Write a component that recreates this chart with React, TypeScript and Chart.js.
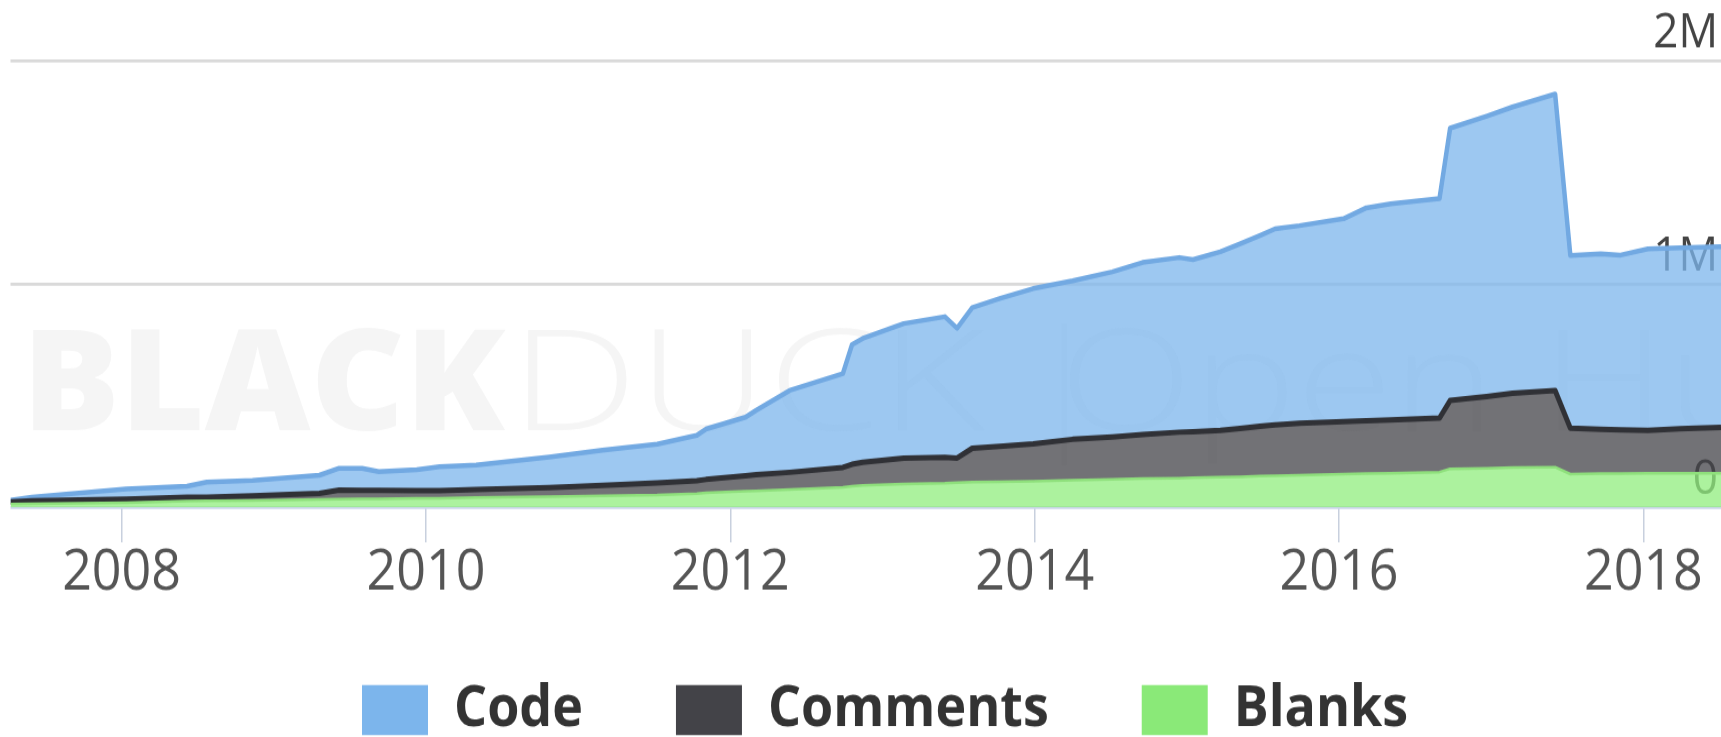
import React, { useEffect, useRef } from "react";
import { Chart, registerables } from "chart.js";

Chart.register(...registerables);

// ---- data (decimal years, thousands of lines) ----
const YEARS = [
  2007.27, 2007.41, 2008.03, 2008.43, 2008.56, 2008.86, 2009.3, 2009.43, 2009.58, 2009.69,
  2009.94, 2010.09, 2010.33, 2010.81, 2011.16, 2011.52, 2011.78, 2011.84, 2012.1, 2012.17,
  2012.39, 2012.74, 2012.8, 2012.87, 2013.14, 2013.41, 2013.49, 2013.59, 2013.77, 2013.99,
  2014.25, 2014.51, 2014.71, 2014.95, 2015.04, 2015.22, 2015.35, 2015.48, 2015.58, 2015.74,
  2016.03, 2016.18, 2016.34, 2016.66, 2016.73, 2016.97, 2017.14, 2017.42, 2017.52, 2017.72,
  2017.85, 2018.03, 2018.24, 2018.51,
];
const CODE_K = [
  7, 17, 45, 50, 67, 69, 81, 98, 99, 84,
  94, 107, 110, 136, 157, 174, 204, 226, 262, 289,
  367, 421, 537, 555, 604, 631, 582, 631, 662, 696,
  711, 740, 772, 783, 772, 801, 828, 855, 879, 886,
  910, 955, 969, 984, 1221, 1257, 1284, 1329, 774, 787,
  783, 814, 812, 810,
];
const COMMENTS_K = [
  10, 13, 16, 17, 17, 21, 28, 40, 38, 38,
  35, 34, 36, 41, 47, 54, 57, 60, 70, 72,
  77, 89, 98, 103, 116, 116, 110, 152, 159, 168,
  183, 190, 197, 206, 206, 210, 217, 224, 228, 233,
  235, 237, 239, 242, 306, 322, 333, 344, 206, 199,
  197, 192, 199, 206,
];
const BLANKS_K = [
  14, 15, 20, 27, 28, 30, 34, 36, 37, 37,
  39, 40, 43, 47, 51, 54, 61, 64, 71, 73,
  79, 89, 94, 98, 103, 107, 110, 112, 114, 116,
  121, 125, 128, 130, 132, 134, 136, 139, 141, 143,
  148, 150, 152, 157, 172, 174, 177, 179, 148, 150,
  150, 152, 152, 152,
];
const X_TICKS = [2008, 2010, 2012, 2014, 2016, 2018];
const Y_TICKS = [0, 1000000, 2000000];
const Y_TICK_LABELS = ["0", "1M", "2M"];
const SERIES = ["Blanks", "Comments", "Code"];
const WATERMARK = ["BLACK", "DUCK", "|", "Open Hub"];

// ---- layout constants ----
const W = 1721;
const S = 1.1; // vertical stretch of the reference
const H = 670;
const FONT = '"Open Sans", "Noto Sans", sans-serif';

const LINE_COLORS = ["#8fe07c", "#303136", "#72a9e2"];
const FILL_COLORS = ["rgba(144,237,125,0.75)", "rgba(67,67,72,0.75)", "rgba(124,181,236,0.75)"];
const LEGEND_COLORS = ["#8ae978", "#434348", "#7cb5ec"];
const BORDER_WIDTHS = [2.5, 5, 4.5];

const watermarkPlugin = {
  id: "watermark",
  beforeDatasetsDraw(chart: any) {
    const ctx = chart.ctx as CanvasRenderingContext2D;
    ctx.save();
    ctx.fillStyle = "#f5f5f5";
    ctx.textBaseline = "alphabetic";
    const base = 391;
    const specs = [
      { x: 22, w: 483, font: `800 127px ${FONT}` },
      { x: 510, w: 475, font: `300 127px ${FONT}` },
      { x: 1030, w: 10, font: `300 127px ${FONT}` },
      { x: 1059, w: 815, font: `300 127px ${FONT}` },
    ];
    WATERMARK.forEach((t, i) => {
      const sp = specs[i];
      ctx.font = sp.font;
      const m = ctx.measureText(t).width || 1;
      const sx = t === "|" ? 1 : sp.w / m;
      ctx.save();
      ctx.translate(sp.x, base);
      ctx.scale(sx, 1);
      ctx.fillText(t, 0, 0);
      ctx.restore();
    });
    ctx.restore();
  },
};

const legendPlacePlugin = {
  id: "legendPlace",
  afterLayout(chart: any) {
    const lg = chart.legend;
    if (!lg || !lg.lineWidths) return;
    const pad = lg.options.labels.padding;
    const start = (lg.left + pad + lg.right - lg.lineWidths[0]) / 2;
    const dx = 362 - start;
    lg.left += dx;
    lg.right += dx;
    const dy = 619.5 - (lg.top + pad);
    lg.top += dy;
    lg.bottom += dy;
  },
};

export default function App() {
  const ref = useRef<HTMLCanvasElement>(null);

  useEffect(() => {
    document.body.style.margin = "0";
    document.body.style.overflow = "hidden";
    const values = [BLANKS_K, COMMENTS_K, CODE_K];
    const chart = new Chart(ref.current as HTMLCanvasElement, {
      type: "line",
      data: {
        datasets: SERIES.map((name, i) => ({
          label: name,
          data: values[i].map((v, j) => ({ x: YEARS[j], y: v * 1000 })),
          borderColor: LINE_COLORS[i],
          backgroundColor: FILL_COLORS[i],
          borderWidth: BORDER_WIDTHS[i],
          fill: i === 0 ? "origin" : "-1",
          pointRadius: 0,
          tension: 0,
          borderJoinStyle: "round",
        })),
      },
      options: {
        responsive: false,
        animation: false,
        events: [],
        layout: { padding: { left: 10.5, right: 0, top: 55.5, bottom: -36 } },
        scales: {
          x: {
            type: "linear",
            min: YEARS[0],
            max: YEARS[YEARS.length - 1],
            afterBuildTicks: (s: any) => {
              s.ticks = X_TICKS.map((v) => ({ value: v }));
            },
            afterFit: (s: any) => {
              s.height = 90;
            },
            grid: {
              display: true,
              drawOnChartArea: false,
              drawTicks: true,
              tickLength: 32,
              color: "#c8d0de",
              lineWidth: 1.5,
            },
            border: { display: false },
            ticks: {
              padding: -3.5,
              autoSkip: false,
              maxRotation: 0,
              minRotation: 0,
              color: "#555555",
              font: { family: FONT, size: 52 },
              callback: (v: any) => String(v),
            },
          },
          y: {
            type: "linear",
            position: "right",
            stacked: true,
            min: 0,
            max: 2000000,
            afterBuildTicks: (s: any) => {
              s.ticks = Y_TICKS.map((v) => ({ value: v }));
            },
            grid: {
              drawTicks: false,
              lineWidth: 2.7,
              color: (c: any) => (c.tick && c.tick.value === 0 ? "#ccd6eb" : "#d9d9d9"),
            },
            border: { display: false },
            ticks: {
              mirror: true,
              padding: -3,
              labelOffset: -25,
              color: "#444444",
              font: { family: FONT, size: 44 },
              callback: (v: any) => {
                const k = Y_TICKS.indexOf(Number(v));
                return k >= 0 ? Y_TICK_LABELS[k] : "";
              },
            },
          },
        },
        plugins: {
          tooltip: { enabled: false },
          title: { display: false },
          legend: {
            display: true,
            position: "bottom",
            reverse: true,
            labels: {
              boxWidth: 66,
              boxHeight: 45.5,
              padding: 93,
              color: "#333333",
              font: { family: FONT, size: 52, weight: "bold" },
              generateLabels: (ch: any) => {
                const items = (Chart.defaults.plugins.legend.labels.generateLabels as any)(ch);
                return items.map((it: any) => ({
                  ...it,
                  fillStyle: LEGEND_COLORS[it.datasetIndex],
                  strokeStyle: LEGEND_COLORS[it.datasetIndex],
                  lineWidth: 0,
                }));
              },
            },
          },
        },
      } as any,
      plugins: [watermarkPlugin, legendPlacePlugin],
    });
    return () => chart.destroy();
  }, []);

  return (
    <div style={{ width: W, height: 737, overflow: "hidden", background: "#ffffff" }}>
      <div style={{ width: W, height: H, transform: `scaleY(${S})`, transformOrigin: "0 0" }}>
        <canvas ref={ref} width={W} height={H} style={{ display: "block", width: W, height: H }} />
      </div>
    </div>
  );
}
